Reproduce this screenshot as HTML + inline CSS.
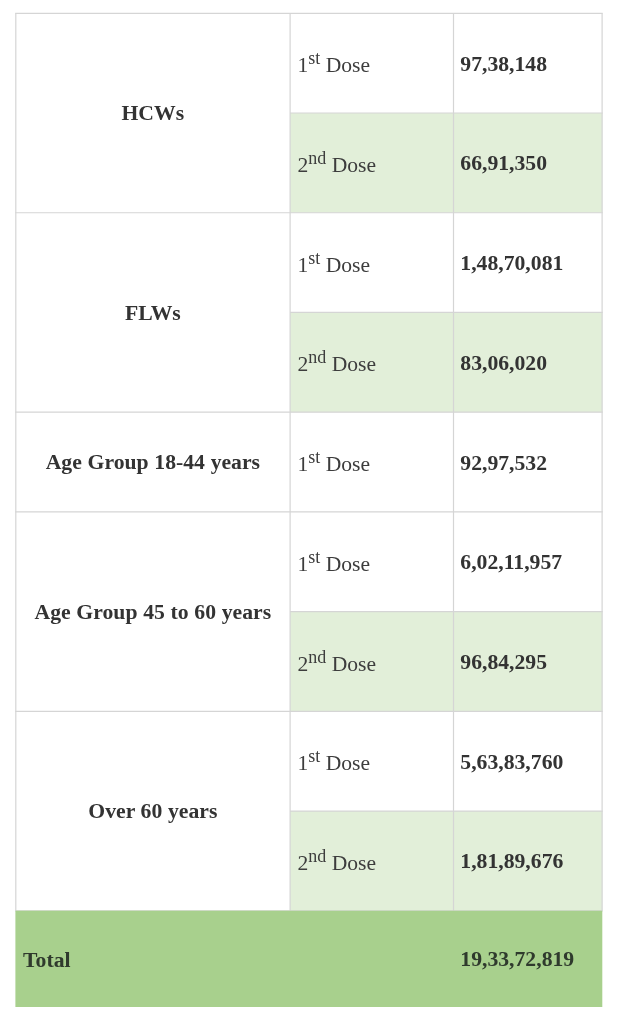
<!DOCTYPE html>
<html><head><meta charset="utf-8">
<style>
html,body{margin:0;padding:0;background:#fff;}
body{width:619px;height:1024px;position:relative;overflow:hidden;font-family:"Liberation Serif",serif;color:#333;}
.c{filter:blur(.35px);position:absolute;box-sizing:border-box;display:flex;align-items:center;white-space:nowrap;}
.h{justify-content:center;font-weight:bold;font-size:21.7px;word-spacing:.3px;}
.d{padding-left:7.4px;font-size:21.6px;color:#3d3d3d;}
.n{padding-left:6.8px;font-weight:bold;font-size:21.7px;}
.t{color:#2f3a2d;}
sup{font-size:smaller;vertical-align:super;}
</style></head><body>
<svg width="619" height="1024" viewBox="0 0 619 1024" style="position:absolute;left:0;top:0">
<rect x="290.1" y="113.02" width="312.2" height="99.72" fill="#e2efd9"/>
<rect x="290.1" y="312.46" width="312.2" height="99.72" fill="#e2efd9"/>
<rect x="290.1" y="611.62" width="312.2" height="99.72" fill="#e2efd9"/>
<rect x="290.1" y="811.06" width="312.2" height="99.72" fill="#e2efd9"/>
<g stroke="#d5d5d5" stroke-width="1.2" fill="none">
<line x1="15.2" y1="13.30" x2="602.7" y2="13.30"/>
<line x1="290.1" y1="113.02" x2="602.7" y2="113.02"/>
<line x1="15.2" y1="212.74" x2="602.7" y2="212.74"/>
<line x1="290.1" y1="312.46" x2="602.7" y2="312.46"/>
<line x1="15.2" y1="412.18" x2="602.7" y2="412.18"/>
<line x1="15.2" y1="511.90" x2="602.7" y2="511.90"/>
<line x1="290.1" y1="611.62" x2="602.7" y2="611.62"/>
<line x1="15.2" y1="711.34" x2="602.7" y2="711.34"/>
<line x1="290.1" y1="811.06" x2="602.7" y2="811.06"/>
<line x1="15.2" y1="910.78" x2="602.7" y2="910.78"/>
<line x1="15.8" y1="13.30" x2="15.8" y2="910.78"/>
<line x1="290.1" y1="13.30" x2="290.1" y2="910.78"/>
<line x1="453.5" y1="13.30" x2="453.5" y2="910.78"/>
<line x1="602.1" y1="13.30" x2="602.1" y2="910.78"/>
</g>
<rect x="15.4" y="910.7" width="586.9" height="96.3" fill="#a8d08d"/>
</svg>
<div class="c h" style="left:15.6px;top:13.30px;width:274.50px;height:199.44px">HCWs</div>
<div class="c h" style="left:15.6px;top:213.74px;width:274.50px;height:199.44px">FLWs</div>
<div class="c h" style="left:15.6px;top:412.18px;width:274.50px;height:99.72px">Age Group 18-44 years</div>
<div class="c h" style="left:15.6px;top:512.90px;width:274.50px;height:199.44px">Age Group 45 to 60 years</div>
<div class="c h" style="left:15.6px;top:711.34px;width:274.50px;height:199.44px">Over 60 years</div>
<div class="c d" style="left:290.1px;top:13.30px;width:163.40px;height:99.72px"><span>1<sup>st</sup> Dose</span></div>
<div class="c n" style="left:453.5px;top:14.30px;width:148.70px;height:99.72px">97,38,148</div>
<div class="c d" style="left:290.1px;top:113.02px;width:163.40px;height:99.72px"><span>2<sup>nd</sup> Dose</span></div>
<div class="c n" style="left:453.5px;top:114.02px;width:148.70px;height:99.72px">66,91,350</div>
<div class="c d" style="left:290.1px;top:212.74px;width:163.40px;height:99.72px"><span>1<sup>st</sup> Dose</span></div>
<div class="c n" style="left:453.5px;top:213.74px;width:148.70px;height:99.72px">1,48,70,081</div>
<div class="c d" style="left:290.1px;top:312.46px;width:163.40px;height:99.72px"><span>2<sup>nd</sup> Dose</span></div>
<div class="c n" style="left:453.5px;top:313.46px;width:148.70px;height:99.72px">83,06,020</div>
<div class="c d" style="left:290.1px;top:412.18px;width:163.40px;height:99.72px"><span>1<sup>st</sup> Dose</span></div>
<div class="c n" style="left:453.5px;top:413.18px;width:148.70px;height:99.72px">92,97,532</div>
<div class="c d" style="left:290.1px;top:511.90px;width:163.40px;height:99.72px"><span>1<sup>st</sup> Dose</span></div>
<div class="c n" style="left:453.5px;top:512.90px;width:148.70px;height:99.72px">6,02,11,957</div>
<div class="c d" style="left:290.1px;top:612.62px;width:163.40px;height:99.72px"><span>2<sup>nd</sup> Dose</span></div>
<div class="c n" style="left:453.5px;top:612.62px;width:148.70px;height:99.72px">96,84,295</div>
<div class="c d" style="left:290.1px;top:711.34px;width:163.40px;height:99.72px"><span>1<sup>st</sup> Dose</span></div>
<div class="c n" style="left:453.5px;top:712.34px;width:148.70px;height:99.72px">5,63,83,760</div>
<div class="c d" style="left:290.1px;top:811.06px;width:163.40px;height:99.72px"><span>2<sup>nd</sup> Dose</span></div>
<div class="c n" style="left:453.5px;top:812.06px;width:148.70px;height:99.72px">1,81,89,676</div>
<div class="c n t" style="left:15.6px;top:912.9px;padding-left:7.5px;width:437.90px;height:96.02px">Total</div>
<div class="c n t" style="left:453.5px;top:911.9px;width:148.70px;height:96.02px">19,33,72,819</div>
</body></html>
